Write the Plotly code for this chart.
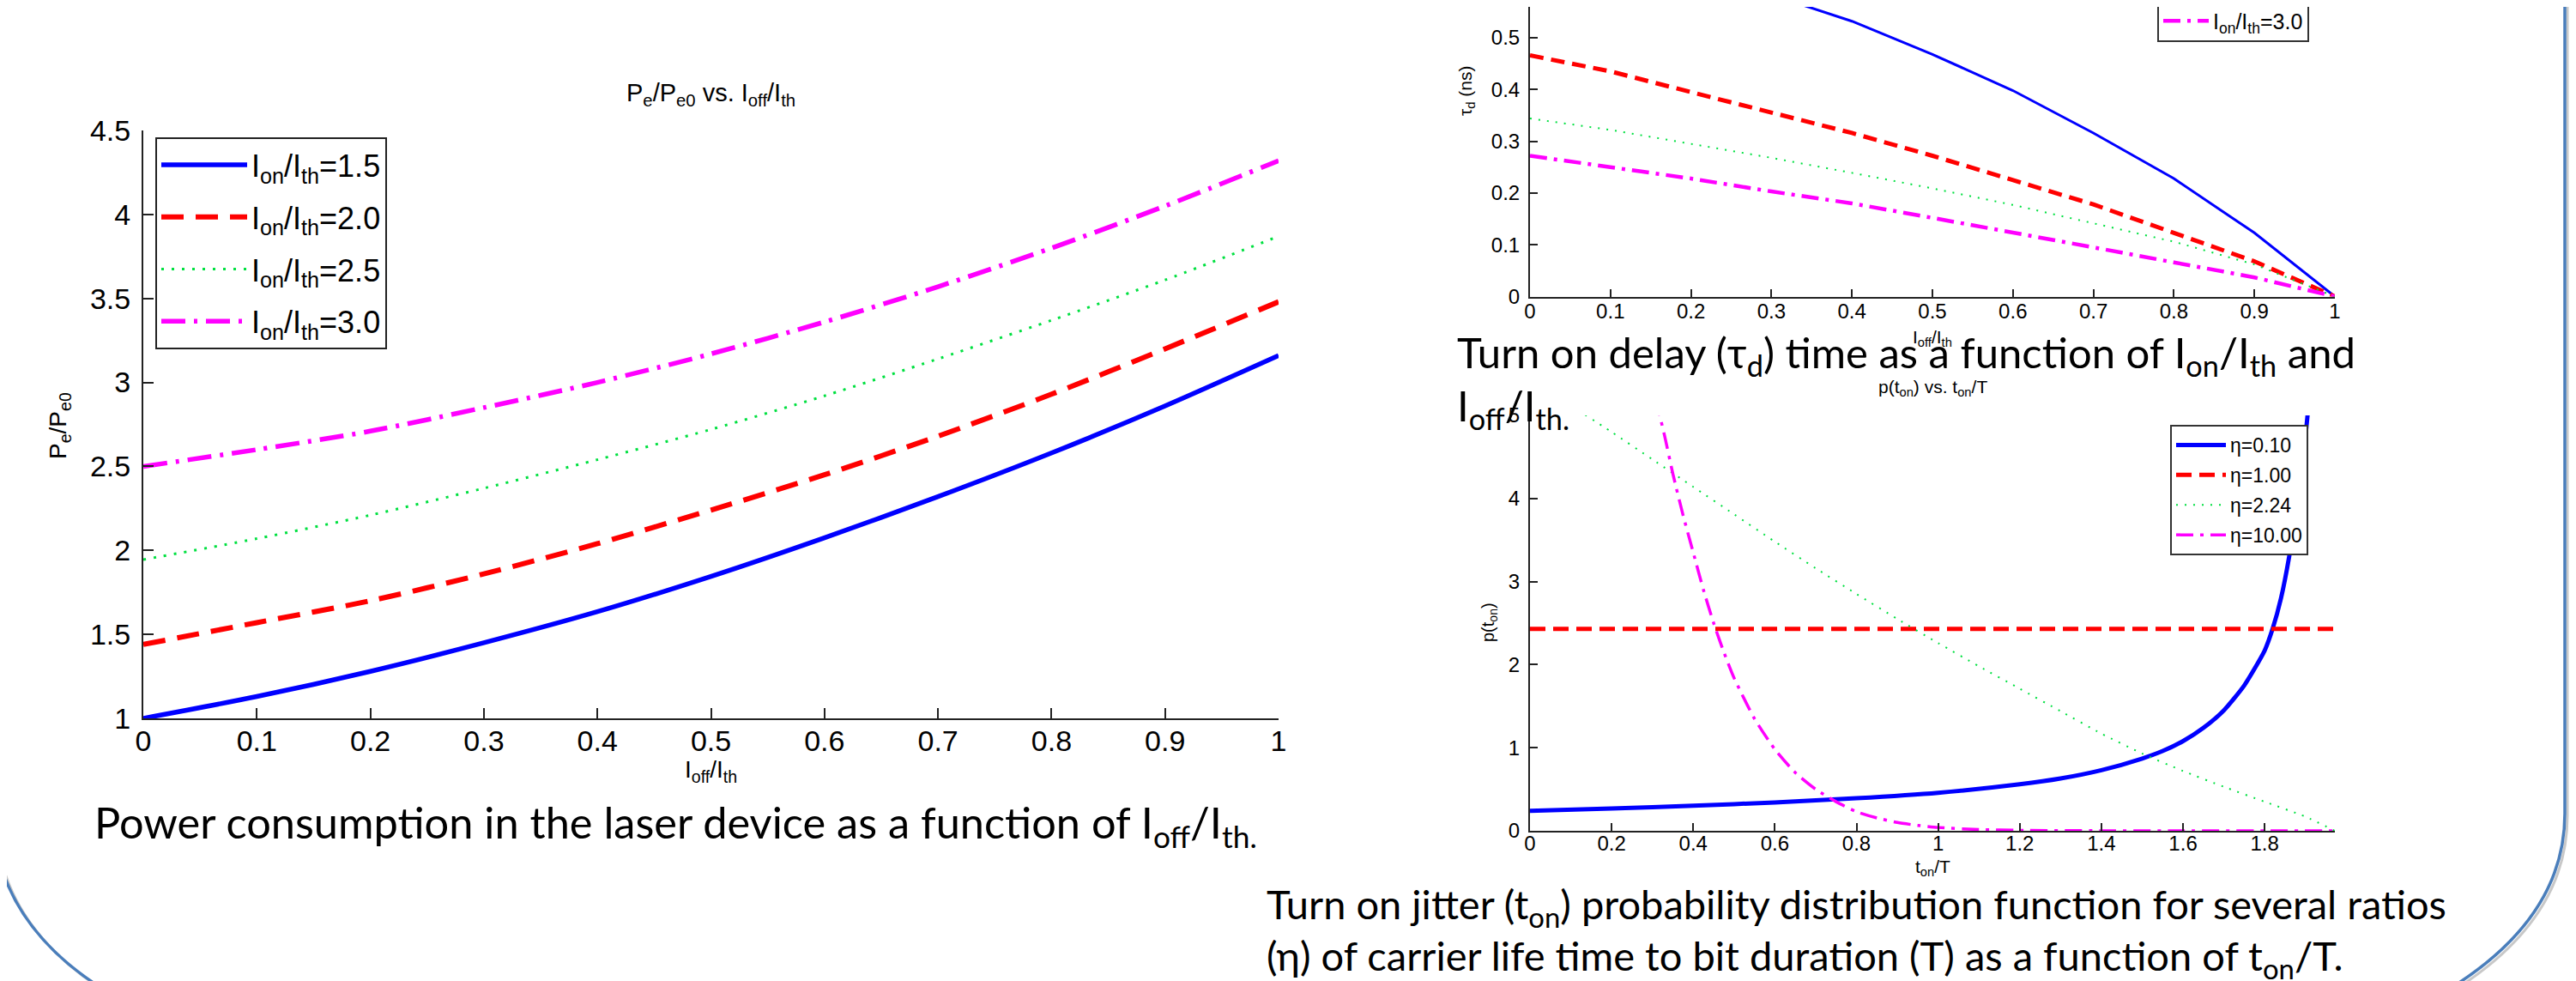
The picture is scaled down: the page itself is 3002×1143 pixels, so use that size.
import plotly.graph_objects as go

W, H = 3002, 1143

# ---------------- data ----------------
# Left chart: Pe/Pe0 vs Ioff/Ith
ioff = [0.0, 0.1, 0.2, 0.3, 0.4, 0.5, 0.6, 0.7, 0.8, 0.9, 1.0]
pe_15 = [1.00, 1.13, 1.28, 1.45, 1.635, 1.845, 2.075, 2.32, 2.58, 2.86, 3.16]
pe_20 = [1.44, 1.57, 1.70, 1.86, 2.04, 2.24, 2.45, 2.68, 2.93, 3.20, 3.48]
pe_25 = [1.945, 2.07, 2.21, 2.37, 2.54, 2.72, 2.92, 3.14, 3.37, 3.61, 3.87]
pe_30 = [2.50, 2.60, 2.71, 2.85, 3.00, 3.17, 3.36, 3.57, 3.80, 4.05, 4.32]

# Top-right chart: turn-on delay (ns) vs Ioff/Ith
td_15 = [0.735, 0.685, 0.635, 0.583, 0.532, 0.468, 0.398, 0.316, 0.228, 0.123, 0.0]
td_20 = [0.466, 0.435, 0.395, 0.356, 0.316, 0.272, 0.226, 0.178, 0.123, 0.068, 0.0]
td_25 = [0.344, 0.322, 0.295, 0.268, 0.239, 0.209, 0.177, 0.142, 0.106, 0.062, 0.0]
td_30 = [0.272, 0.250, 0.228, 0.203, 0.180, 0.152, 0.124, 0.095, 0.066, 0.037, 0.0]

# Bottom-right chart: p(ton) vs ton/T
t_010 = [0.0, 0.2, 0.4, 0.6, 0.8, 1.0, 1.2, 1.3, 1.4, 1.5, 1.55, 1.6, 1.65, 1.7,
         1.75, 1.8, 1.82, 1.84, 1.86, 1.88, 1.9, 1.92]
p_010 = [0.241, 0.268, 0.301, 0.342, 0.392, 0.458, 0.56, 0.63, 0.73, 0.87, 0.96,
         1.08, 1.24, 1.45, 1.75, 2.17, 2.44, 2.80, 3.30, 3.95, 4.75, 5.8]
t_100 = [0.0, 1.972]
p_100 = [2.43, 2.43]
t_224 = [0.1, 0.2, 0.3, 0.4, 0.5, 0.6, 0.7, 0.8, 0.9, 1.0, 1.1, 1.2, 1.3, 1.4,
         1.5, 1.6, 1.7, 1.8, 1.9, 1.972]
p_224 = [5.12, 4.80, 4.47, 4.14, 3.81, 3.48, 3.16, 2.85, 2.55, 2.26, 1.98, 1.71,
         1.44, 1.17, 0.93, 0.72, 0.53, 0.35, 0.17, 0.0]
t_1000 = [0.31, 0.318, 0.33, 0.35, 0.375, 0.40, 0.425, 0.45, 0.475, 0.50, 0.55,
          0.60, 0.65, 0.70, 0.75, 0.80, 0.85, 0.90, 0.95, 1.00, 1.10, 1.20, 1.40,
          1.60, 1.80, 1.972]
p_1000 = [5.2, 5.0, 4.75, 4.30, 3.80, 3.35, 2.90, 2.50, 2.15, 1.84, 1.35, 0.98,
          0.70, 0.50, 0.35, 0.23, 0.155, 0.10, 0.065, 0.04, 0.015, 0.006, 0.001,
          0.0, 0.0, 0.0]

ion_labels = ["I<sub>on</sub>/I<sub>th</sub>=1.5", "I<sub>on</sub>/I<sub>th</sub>=2.0",
              "I<sub>on</sub>/I<sub>th</sub>=2.5", "I<sub>on</sub>/I<sub>th</sub>=3.0"]
eta_labels = ["η=0.10", "η=1.00", "η=2.24", "η=10.00"]

x1_ticks = [0, 0.1, 0.2, 0.3, 0.4, 0.5, 0.6, 0.7, 0.8, 0.9, 1]
x1_text = ["0", "0.1", "0.2", "0.3", "0.4", "0.5", "0.6", "0.7", "0.8", "0.9", "1"]
y1_ticks = [1, 1.5, 2, 2.5, 3, 3.5, 4, 4.5]
y1_text = ["1", "1.5", "2", "2.5", "3", "3.5", "4", "4.5"]
y2_ticks = [0, 0.1, 0.2, 0.3, 0.4, 0.5]
y2_text = ["0", "0.1", "0.2", "0.3", "0.4", "0.5"]
x3_ticks = [0, 0.2, 0.4, 0.6, 0.8, 1.0, 1.2, 1.4, 1.6, 1.8]
x3_text = ["0", "0.2", "0.4", "0.6", "0.8", "1", "1.2", "1.4", "1.6", "1.8"]
y3_ticks = [0, 1, 2, 3, 4, 5]
y3_text = ["0", "1", "2", "3", "4", "5"]

# ---------------- helpers ----------------
def px(x):
    return x / W

def py(y):
    return 1 - y / H

BLUE, RED, GREEN, MAG = "#0000FF", "#FF0000", "#00E040", "#FF00FF"
AX = "Liberation Sans, Arial, sans-serif"
CAP = "Lato, Carlito, Calibri, sans-serif"

fig = go.Figure()

# ---------- left chart ----------
styles_left = [
    (pe_15, BLUE, "solid", 5.5),
    (pe_20, RED, "26px,14px", 6),
    (pe_25, GREEN, "3px,9px", 3),
    (pe_30, MAG, "28px,10px,4px,10px", 5.5),
]
for i, (ys, col, dash, w) in enumerate(styles_left):
    fig.add_trace(go.Scatter(
        x=ioff, y=ys, mode="lines", name=ion_labels[i],
        line=dict(color=col, dash=dash, width=w, shape="spline", smoothing=0.8),
        xaxis="x", yaxis="y", legend="legend", legendgroup=f"L{i}"))

# ---------- top-right chart ----------
styles_tr = [
    (td_15, BLUE, "solid", 3),
    (td_20, RED, "16px,9px", 5),
    (td_25, GREEN, "2px,8px", 2),
    (td_30, MAG, "20px,8px,4px,8px", 4.5),
]
for i, (ys, col, dash, w) in enumerate(styles_tr):
    fig.add_trace(go.Scatter(
        x=ioff, y=ys, mode="lines", name=ion_labels[i],
        line=dict(color=col, dash=dash, width=w),
        xaxis="x2", yaxis="y2", legend="legend2", legendgroup=f"T{i}"))

# ---------- bottom-right chart ----------
styles_br = [
    (t_010, p_010, BLUE, "solid", 5, "spline"),
    (t_100, p_100, RED, "18px,9px", 5, "linear"),
    (t_224, p_224, GREEN, "2px,8px", 2, "spline"),
    (t_1000, p_1000, MAG, "20px,8px,4px,8px", 3.5, "spline"),
]
for i, (xs, ys, col, dash, w, shp) in enumerate(styles_br):
    fig.add_trace(go.Scatter(
        x=xs, y=ys, mode="lines", name=eta_labels[i],
        line=dict(color=col, dash=dash, width=w, shape=shp, smoothing=0.6),
        xaxis="x3", yaxis="y3", legend="legend3", legendgroup=f"B{i}"))

def axis(domain, rng, tv, tt, fsize, anchor, ticklen, standoff):
    return dict(domain=domain, range=rng, tickvals=tv, ticktext=tt,
                ticks="inside", ticklen=ticklen, tickwidth=2, tickcolor="#222",
                showline=True, linewidth=2, linecolor="#222", showgrid=False,
                zeroline=False, anchor=anchor, fixedrange=True,
                tickfont=dict(family=AX, size=fsize, color="black"),
                ticklabelstandoff=standoff)

fig.update_layout(
    width=W, height=H,
    margin=dict(l=0, r=0, t=0, b=0, autoexpand=False),
    paper_bgcolor="white", plot_bgcolor="white",
    xaxis=axis([px(159), px(1482)], [0, 1], x1_ticks, x1_text, 34, "y", 12, -5),
    yaxis=axis([py(829), py(144)], [1, 4.5], y1_ticks, y1_text, 34, "x", 12, 6),
    xaxis2=axis([px(1775), px(2713)], [0, 1], x1_ticks, x1_text, 24, "y2", 9, -5),
    yaxis2=axis([py(337.5), 1.0], [0, 0.5597], y2_ticks, y2_text, 24, "x2", 9, 5),
    xaxis3=axis([px(1775), px(2713)], [0, 1.972], x3_ticks, x3_text, 24, "y3", 9, -8),
    yaxis3=axis([py(960), py(476)], [0, 5], y3_ticks, y3_text, 24, "x3", 9, 5),
    legend=dict(x=px(173), y=py(152), xanchor="left", yanchor="top",
                bgcolor="white", bordercolor="#222", borderwidth=2,
                font=dict(family=AX, size=36, color="black"),
                itemwidth=100, tracegroupgap=11, traceorder="grouped"),
    legend2=dict(x=px(2506), y=py(41), xanchor="left", yanchor="bottom",
                 bgcolor="white", bordercolor="#333", borderwidth=2,
                 font=dict(family=AX, size=25, color="black"),
                 itemwidth=53, tracegroupgap=8, traceorder="grouped"),
    legend3=dict(x=px(2521), y=py(487), xanchor="left", yanchor="top",
                 bgcolor="white", bordercolor="#333", borderwidth=2,
                 font=dict(family=AX, size=23, color="black"),
                 itemwidth=58, tracegroupgap=2, traceorder="grouped"),
)

anns = []
def ann(text, x, y, size, family=AX, xanchor="center", angle=0):
    anns.append(dict(text=text, x=px(x), y=py(y), xref="paper", yref="paper",
                     xanchor=xanchor, yanchor="middle", showarrow=False,
                     textangle=angle,
                     font=dict(family=family, size=size, color="black")))

# left chart labels
ann("P<sub>e</sub>/P<sub>e0</sub> vs. I<sub>off</sub>/I<sub>th</sub>", 820, 102, 29)
ann("I<sub>off</sub>/I<sub>th</sub>", 820, 890, 28)
ann("P<sub>e</sub>/P<sub>e0</sub>", 62, 488, 28, angle=-90)
# top-right labels
ann("τ<sub>d</sub> (ns)", 1701, 98, 21, angle=-90)
ann("I<sub>off</sub>/I<sub>th</sub>", 2244, 386, 21)
# bottom-right labels
ann("p(t<sub>on</sub>) vs. t<sub>on</sub>/T", 2244, 444, 21)
ann("t<sub>on</sub>/T", 2244, 1003, 21)
ann("p(t<sub>on</sub>)", 1727, 717, 20, angle=-90)
# captions
ann("Power consumption in the laser device as a function of I<sub>off</sub>/I<sub>th.</sub>",
    100, 953, 50.5, family=CAP, xanchor="left")
ann("Turn on delay (τ<sub>d</sub>) time as a function of I<sub>on</sub>/I<sub>th</sub> and",
    1688, 405, 49, family=CAP, xanchor="left")
ann("I<sub>off</sub>/I<sub>th.</sub>", 1688, 468, 49, family=CAP, xanchor="left")
ann("Turn on jitter (t<sub>on</sub>) probability distribution function for several ratios",
    1466, 1048, 47, family=CAP, xanchor="left")
ann("(η) of carrier life time to bit duration (T) as a function of t<sub>on</sub>/T.",
    1466, 1108, 47, family=CAP, xanchor="left")
fig.update_layout(annotations=anns)

# slide frame (rounded rectangle edges)
def path(cmds):
    out = []
    for c in cmds:
        if isinstance(c, str):
            out.append(c)
        else:
            out.append(f"{px(c[0]):.5f},{py(c[1]):.5f}")
    return " ".join(out)

left_arc = path(["M", (-10, 990), "Q", (20, 1110), (180, 1180)])
left_arc_sh = path(["M", (-7, 993), "Q", (23, 1113), (183, 1183)])
right_edge = path(["M", (2981, -10), "L", (2981, 940), "Q", (2981, 1080), (2800, 1170)])
right_edge_sh = path(["M", (2984, -10), "L", (2984, 943), "Q", (2984, 1083), (2803, 1173)])
shapes = []
for p_, col, w in [(left_arc_sh, "#C8C8C8", 3), (right_edge_sh, "#C8C8C8", 3),
                   (left_arc, "#4A7EBB", 3.5), (right_edge, "#4A7EBB", 3.5)]:
    shapes.append(dict(type="path", path=p_, xref="paper", yref="paper",
                       line=dict(color=col, width=w), layer="above"))
fig.update_layout(shapes=shapes)

fig.write_html("out.html")
